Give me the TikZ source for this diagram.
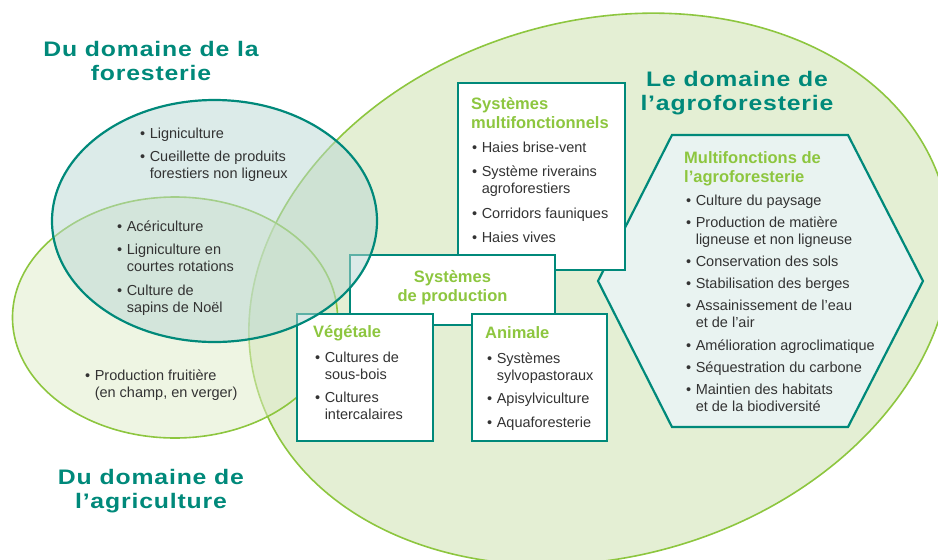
\documentclass[tikz,border=0pt]{standalone}
\usepackage{fontspec}
\setmainfont{Liberation Sans}
\newfontfamily\headfont[FakeStretch=1.18,LetterSpace=4]{Liberation Sans}
\definecolor{agroteal}{RGB}{0,137,122}
\definecolor{agrogreen}{RGB}{141,198,63}
\definecolor{bigfill}{RGB}{228,239,212}
\definecolor{agrifill}{RGB}{222,235,200}
\definecolor{forfill}{RGB}{185,215,211}
\definecolor{hexfill}{RGB}{233,243,241}
\definecolor{textgray}{RGB}{51,51,51}
\newcommand{\puces}[1]{\begin{tabular}[t]{@{}l@{\hspace{4.5pt}}l@{}}#1\end{tabular}}
\begin{document}
\begin{tikzpicture}[x=1pt,y=1pt,
    every node/.style={inner sep=0pt,text=textgray},
    domainzone/.style={line width=1.6pt},
    sysbox/.style={draw=agroteal,line width=2.2pt,fill=white},
    headtext/.style={font=\headfont\bfseries\fontsize{21}{24}\selectfont,text=agroteal,align=center,anchor=base},
    boxtitle/.style={font=\bfseries\fontsize{16.5}{19}\selectfont,text=agrogreen,anchor=base west,align=left},
    bullets/.style={font=\fontsize{14.5}{17}\selectfont,anchor=base west}]
            \useasboundingbox (0,0) rectangle (938,-560);
            \clip (0,0) rectangle (938,-560);
                \coordinate (agro) at (600,-289);
                \coordinate (agri) at (175,-317.5);
                \coordinate (fores) at (214.5,-221);
                \draw [domainzone,draw=agrogreen,fill=bigfill,rotate around={16:(agro)}] (agro) ellipse [x radius=357,y radius=268];
                \draw [domainzone,draw=agrogreen,fill=agrifill,fill opacity=0.5] (agri) ellipse [x radius=162.5,y radius=120.5];
                \draw [draw=agroteal,line width=2.2pt,fill=hexfill] (672,-135) -- (848,-135) -- (923,-281) -- (848,-427) -- (672,-427) -- (598,-281) -- cycle;
                \node [sysbox,minimum width=167,minimum height=187] (multi) at (541.5,-176.5) {};
                \node [sysbox,minimum width=205,minimum height=70] (prod) at (452.5,-290) {};
                \node [sysbox,minimum width=136,minimum height=127] (veget) at (365,-377.5) {};
                \node [sysbox,minimum width=135,minimum height=127] (anim) at (539.5,-377.5) {};
                \draw [domainzone,draw=agroteal,line width=2.2pt,fill=forfill,fill opacity=0.5] (fores) ellipse [x radius=162.5,y radius=121];
                \node [headtext] (forhead) at (151,-80) {Du domaine de la\\foresterie};
                \node [headtext] (agrihead) at (151,-508) {Du domaine de\\l’agriculture};
                \node [headtext] (agrohead) at (737,-110) {Le domaine de\\l’agroforesterie};
                \node [bullets] (forlist) at (140,-138) {\puces{\textbullet & Ligniculture\\[6.5pt]
                    \textbullet & Cueillette de produits\\ & forestiers non ligneux}};
                \node [bullets] (bothlist) at (117,-231) {\puces{\textbullet & Acériculture\\[6.5pt]
                    \textbullet & Ligniculture en\\ & courtes rotations\\[6.5pt]
                    \textbullet & Culture de\\ & sapins de Noël}};
                \node [bullets] (agrilist) at (85,-380) {\puces{\textbullet & Production fruitière\\ & (en champ, en verger)}};
                \node [boxtitle] (multititle) at (471,-128) {Systèmes\\multifonctionnels};
                \node [bullets] (multilist) at (472,-152) {\puces{\textbullet & Haies brise-vent\\[7.5pt]
                    \textbullet & Système riverains\\ & agroforestiers\\[7.5pt]
                    \textbullet & Corridors fauniques\\[7.5pt]
                    \textbullet & Haies vives}};
                \node [boxtitle,anchor=base,align=center] (prodtitle) at (452.5,-301) {Systèmes\\de production};
                \node [boxtitle] (vegettitle) at (313,-337) {Végétale};
                \node [bullets] (vegetlist) at (315,-362) {\puces{\textbullet & Cultures de\\ & sous-bois\\[6.5pt]
                    \textbullet & Cultures\\ & intercalaires}};
                \node [boxtitle] (animtitle) at (485,-338) {Animale};
                \node [bullets] (animlist) at (487,-363) {\puces{\textbullet & Systèmes\\ & sylvopastoraux\\[6.5pt]
                    \textbullet & Apisylviculture\\[6.5pt]
                    \textbullet & Aquaforesterie}};
                \node [boxtitle] (hextitle) at (684,-182) {Multifonctions de\\l’agroforesterie};
                \node [bullets] (hexlist) at (686,-205) {\puces{\textbullet & Culture du paysage\\[5.2pt]
                    \textbullet & Production de matière\\ & ligneuse et non ligneuse\\[5.2pt]
                    \textbullet & Conservation des sols\\[5.2pt]
                    \textbullet & Stabilisation des berges\\[5.2pt]
                    \textbullet & Assainissement de l’eau\\ & et de l’air\\[5.2pt]
                    \textbullet & Amélioration agroclimatique\\[5.2pt]
                    \textbullet & Séquestration du carbone\\[5.2pt]
                    \textbullet & Maintien des habitats\\ & et de la biodiversité}};
            \end{tikzpicture}
\end{document}
